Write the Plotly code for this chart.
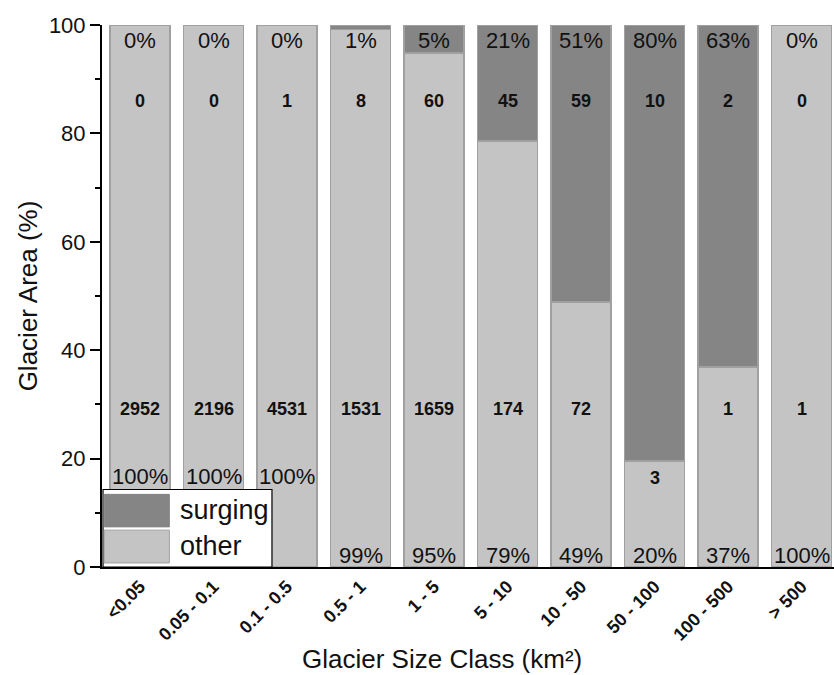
import plotly.graph_objects as go

categories = ["<0.05", "0.05 - 0.1", "0.1 - 0.5", "0.5 - 1", "1 - 5", "5 - 10",
              "10 - 50", "50 - 100", "100 - 500", "> 500"]
other_share = [100, 100, 100, 99.2, 94.8, 78.6, 48.9, 19.6, 36.9, 100]
surging_share = [0, 0, 0, 0.8, 5.2, 21.4, 51.1, 80.4, 63.1, 0]
surging_count = [0, 0, 1, 8, 60, 45, 59, 10, 2, 0]
other_count = [2952, 2196, 4531, 1531, 1659, 174, 72, 3, 1, 1]

C_OTHER = "#c4c4c4"
C_SURG = "#858585"
C_EDGE = "#a0a0a0"
FONT = "Arial, Liberation Sans, sans-serif"

fig = go.Figure()
fig.add_trace(go.Bar(x=categories, y=other_share, name="other",
                     marker=dict(color=C_OTHER, line=dict(color=C_EDGE, width=1.5))))
fig.add_trace(go.Bar(x=categories, y=surging_share, name="surging",
                     marker=dict(color=C_SURG, line=dict(color=C_EDGE, width=1.5))))

ann = []
for i, c in enumerate(categories):
    # surging share label at top
    ann.append(dict(x=c, y=97.2, text=f"{round(surging_share[i])}%", showarrow=False,
                    font=dict(size=22, color="#111", family=FONT)))
    # other share label at bottom
    ann.append(dict(x=c, y=16.7 if i < 3 else 2.2, text=f"{round(other_share[i])}%",
                    showarrow=False, font=dict(size=22, color="#111", family=FONT)))
    # counts
    ann.append(dict(x=c, y=86, text=f"<b>{surging_count[i]}</b>", showarrow=False,
                    font=dict(size=18, color="#111", family=FONT)))
    ann.append(dict(x=c, y=min(29.1, other_share[i] - 3.1), text=f"<b>{other_count[i]}</b>",
                    showarrow=False, font=dict(size=18, color="#111", family=FONT)))

# x-axis title
ann.append(dict(xref="paper", yref="paper", x=0.4645, y=-0.170, yanchor="middle",
                text="Glacier Size Class (km²)", showarrow=False,
                font=dict(size=26, color="#111", family=FONT)))

# manual legend
ann.append(dict(xref="paper", yref="y", x=0.104, y=10.6, xanchor="left", yanchor="middle",
                text="surging", showarrow=False, font=dict(size=27, color="#111", family=FONT)))
ann.append(dict(xref="paper", yref="y", x=0.104, y=3.9, xanchor="left", yanchor="middle",
                text="other", showarrow=False, font=dict(size=27, color="#111", family=FONT)))

shapes = [
    dict(type="rect", xref="paper", yref="y", x0=0.0014, x1=0.2322, y0=0, y1=14.3,
         fillcolor="white", line=dict(color="black", width=1.2), layer="above"),
    dict(type="rect", xref="paper", yref="y", x0=0.003, x1=0.092, y0=7.4, y1=13.4,
         fillcolor=C_SURG, line=dict(color=C_SURG, width=1), layer="above"),
    dict(type="rect", xref="paper", yref="y", x0=0.003, x1=0.092, y0=0.75, y1=6.8,
         fillcolor=C_OTHER, line=dict(color=C_EDGE, width=1), layer="above"),
]

fig.update_layout(
    barmode="stack",
    bargap=0.184,
    width=834, height=675,
    margin=dict(l=102, r=0, t=25, b=108),
    paper_bgcolor="white", plot_bgcolor="white",
    showlegend=False,
    annotations=ann,
    shapes=shapes,
    font=dict(family=FONT, color="#111"),
)
fig.update_xaxes(
    range=[-0.517, 9.44], tickangle=-45, showgrid=False,
    showline=True, linecolor="black", linewidth=2, ticks="",
    tickfont=dict(size=18, family=FONT, color="#111", weight="bold"),
)
fig.update_yaxes(
    range=[0, 100], tickvals=[0, 20, 40, 60, 80, 100], showgrid=False, zeroline=False,
    showline=True, linecolor="black", linewidth=2, ticks="outside", ticklen=10, tickwidth=1.5,
    tickcolor="black", tickfont=dict(size=22, family=FONT, color="#111"),
    minor=dict(tickvals=[10, 30, 50, 70, 90], ticks="outside", ticklen=5, tickwidth=1.5,
               tickcolor="black"),
    title=dict(text="Glacier Area (%)", font=dict(size=26, family=FONT, color="#111"), standoff=4),
)

fig.write_html("out.html")
